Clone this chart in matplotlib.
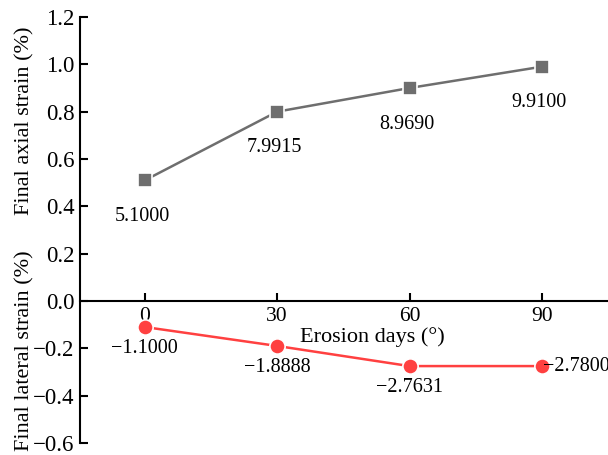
import matplotlib
matplotlib.use("Agg")
import matplotlib.pyplot as plt

plt.rcParams['font.family'] = ['Liberation Serif', 'DejaVu Serif']

days = [0, 30, 60, 90]
axial = [0.51, 0.80, 0.90, 0.99]
lateral = [-0.11, -0.19, -0.275, -0.275]
axial_labels = ["5.1000", "7.9915", "8.9690", "9.9100"]
lateral_labels = ["\u22121.1000", "\u22121.8888", "\u22122.7631", "\u22122.7800"]
yticks = [-0.6, -0.4, -0.2, 0.0, 0.2, 0.4, 0.6, 0.8, 1.0, 1.2]
xticks = [0, 30, 60, 90]

fig = plt.figure(figsize=(6.08, 4.55), dpi=100)
ax = fig.add_axes([80/608, 1 - 443/455, 1 - 80/608, (443 - 17)/455])

ax.plot(days, axial, color='#6e6e6e', lw=1.8, marker='s', ms=10,
        markeredgecolor='white', markeredgewidth=1.2, zorder=3)
ax.plot(days, lateral, color='#ff4040', lw=1.8, marker='o', ms=11,
        markeredgecolor='white', markeredgewidth=1.2, zorder=3)

ax.set_xlim(-14.7, 105)
ax.set_ylim(-0.6, 1.2)
ax.set_yticks(yticks)
ax.set_yticklabels([f"{v:.1f}".replace("-", "\u2212") for v in yticks])
ax.set_xticks(xticks)

ax.spines['top'].set_visible(False)
ax.spines['right'].set_visible(False)
ax.spines['bottom'].set_position(('data', 0))
ax.spines['left'].set_linewidth(1.5)
ax.spines['bottom'].set_linewidth(1.5)
ax.tick_params(axis='both', direction='in', length=6, width=1.5)
ax.tick_params(axis='y', labelsize=16.5, pad=4)
ax.tick_params(axis='x', labelsize=15.5, pad=4)

# annotations
for x, y, t in zip(days, axial, axial_labels):
    ax.annotate(t, (x, y), xytext=(-2, -26), textcoords='offset points',
                ha='center', va='center', fontsize=14.5)
offs_lat = [(0, -15.5, 'center'), (0, -15.5, 'center'), (0, -15.5, 'center'), (0.5, 0, 'left')]
for x, y, t, (dx, dy, ha) in zip(days, lateral, lateral_labels, offs_lat):
    ax.annotate(t, (x, y), xytext=(dx, dy), textcoords='offset points',
                ha=ha, va='center', fontsize=14.5, annotation_clip=False)

ax.text(51.5, -0.152, "Erosion days (\u00b0)", ha='center', va='center', fontsize=16)

fig.text(25/608, 1 - 121/455, "Final axial strain (%)", rotation=90,
         ha='center', va='center', fontsize=16)
fig.text(25/608, 1 - 351/455, "Final lateral strain (%)", rotation=90,
         ha='center', va='center', fontsize=16)

fig.savefig("out.png", dpi=100)
